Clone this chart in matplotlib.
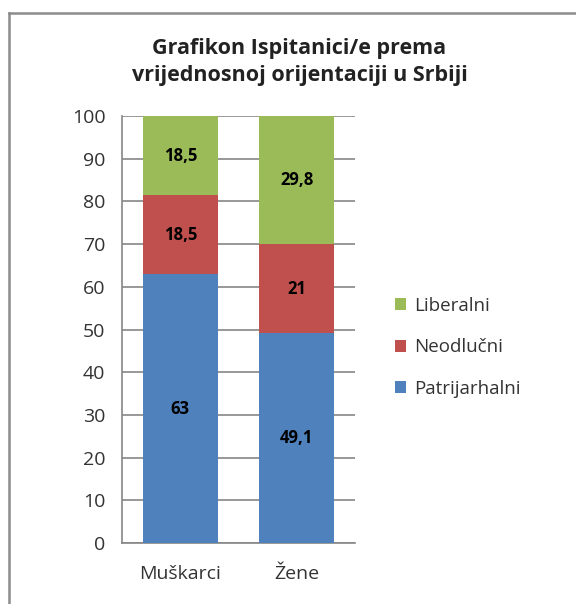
import numpy as np
import matplotlib.pyplot as plt
from matplotlib.lines import Line2D

plt.rcParams['font.family'] = ['Open Sans', 'DejaVu Sans']

categories = ['Muškarci', 'Žene']
patrijarhalni = [63, 49.1]
neodlucni = [18.5, 21]
liberalni = [18.5, 29.8]
series = [('Patrijarhalni', patrijarhalni, '#4F81BD'),
          ('Neodlučni', neodlucni, '#C0504D'),
          ('Liberalni', liberalni, '#9BBB59')]

fig = plt.figure(figsize=(5.76, 6.04), dpi=100)
ax = fig.add_axes([0.2118, 0.1010, 0.4045, 0.7069])

# frame around the chart
fig.add_artist(Line2D([9/576, 1], [1-13/604, 1-13/604], color='#8c8c8c', lw=1.8))
fig.add_artist(Line2D([9/576, 9/576], [0, 1-13/604], color='#8c8c8c', lw=1.8))
fig.text(0.01, 1.012, 'Grafikon 1.', fontsize=11, fontweight='bold', va='center')

x = np.arange(len(categories))
bottom = np.zeros(len(categories))
handles = []
for name, vals, col in series:
    vals = np.array(vals)
    b = ax.bar(x, vals, 0.64, bottom=bottom, color=col, label=name, zorder=3)
    handles.append(b)
    for xi, v, bt in zip(x, vals, bottom):
        ax.text(xi, bt + v/2, f'{v:g}'.replace('.', ','), ha='center', va='center',
                fontsize=12, fontweight='bold', zorder=4)
    bottom += vals

ax.set_xlim(-0.5, 1.5)
ax.set_ylim(0, 100)
ax.set_yticks(range(0, 101, 10))
ax.set_xticks(x)
ax.set_xticklabels(categories)
ax.yaxis.grid(True, color='#868686', lw=1.2, zorder=0)
for s in ['top', 'right']:
    ax.spines[s].set_visible(False)
ax.spines['left'].set_color('#868686')
ax.spines['bottom'].set_color('#868686')
ax.spines['left'].set_linewidth(1.2)
ax.spines['bottom'].set_linewidth(1.2)
ax.tick_params(axis='both', length=0, labelsize=14, colors='#333333')
ax.tick_params(axis='y', pad=12)
ax.tick_params(axis='x', pad=16)

fig.text(0.52, 0.897, 'Grafikon Ispitanici/e prema\nvrijednosnoj orijentaciji u Srbiji',
         ha='center', va='center', fontsize=15.5, fontweight='bold', linespacing=1.4,
         color='#222222')

fig.legend(handles[::-1], [s[0] for s in series][::-1], loc='center left',
           bbox_to_anchor=(0.656, 0.425), frameon=False, fontsize=13.5,
           handlelength=0.6, handleheight=0.6, handletextpad=0.45, labelspacing=1.25,
           labelcolor='#333333')

fig.savefig('out.png', dpi=100)
